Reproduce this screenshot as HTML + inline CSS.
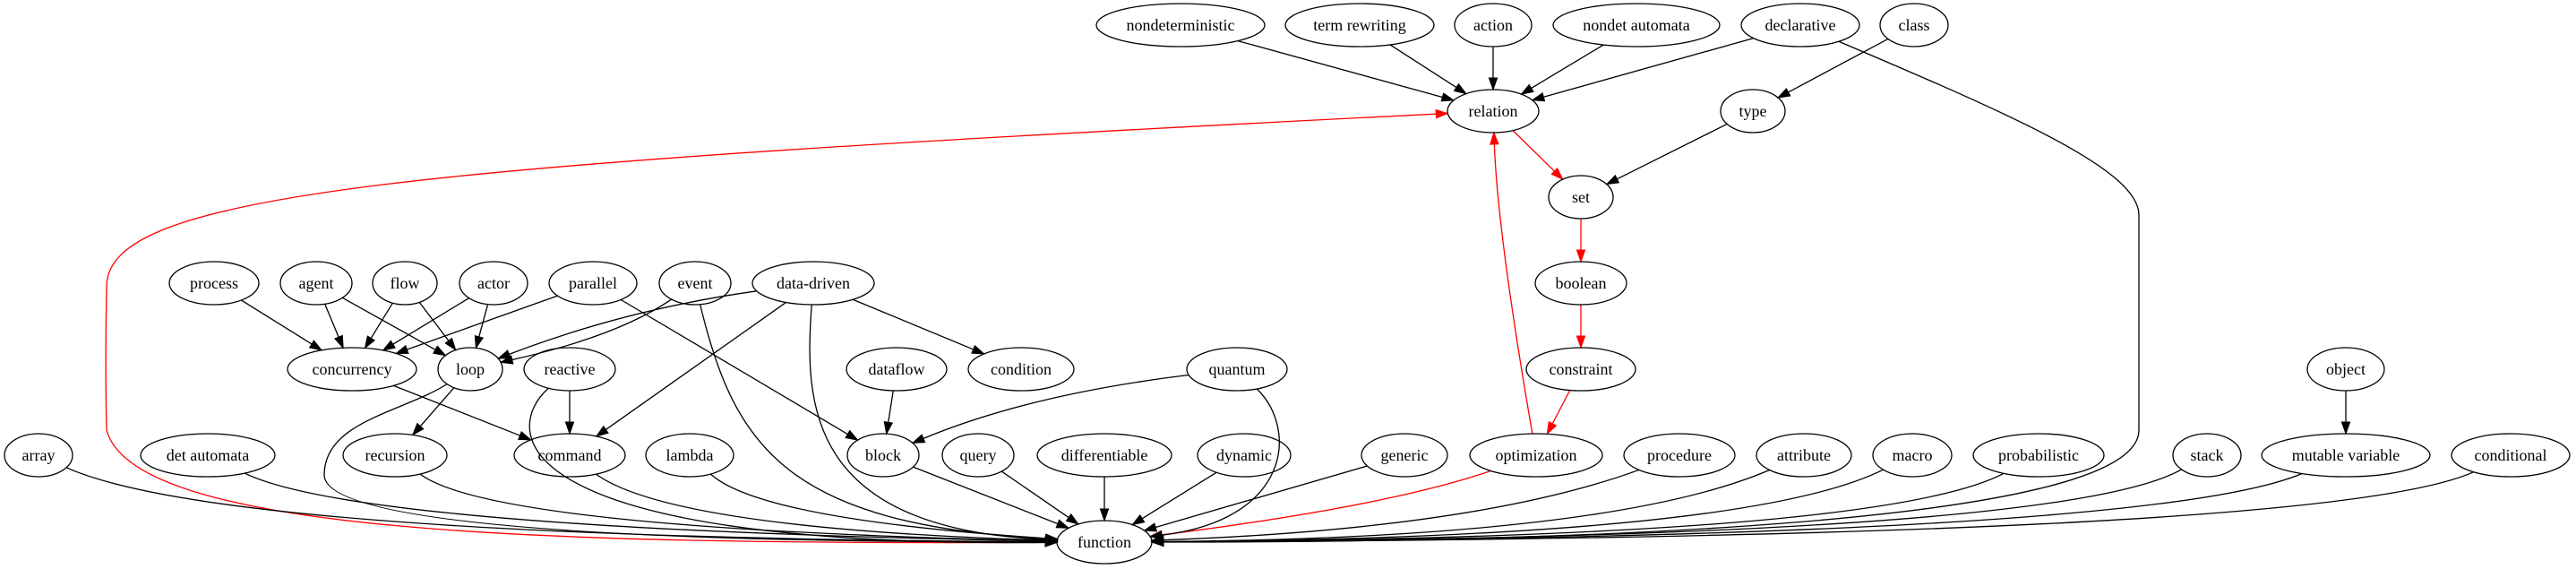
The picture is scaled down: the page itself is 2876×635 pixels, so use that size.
<!DOCTYPE html>
<html><head><meta charset="utf-8">
<style>
html,body{margin:0;padding:0;background:#fff;}
svg{display:block;}
text{font-family:"Liberation Serif",serif;font-size:18px;text-anchor:middle;dominant-baseline:central;fill:#000;}
ellipse{fill:none;stroke:#000;stroke-width:1.3;}
</style></head>
<body>
<svg id="g" width="2876" height="635" viewBox="0 0 2876 635" xmlns="http://www.w3.org/2000/svg">
<g id="edges"></g>
<g id="nodes">
<ellipse cx="1318" cy="28" rx="94" ry="24"/><text x="1318" y="28">nondeterministic</text>
<ellipse cx="1518" cy="28" rx="83" ry="24"/><text x="1518" y="28">term rewriting</text>
<ellipse cx="1667" cy="28" rx="43" ry="24"/><text x="1667" y="28">action</text>
<ellipse cx="1827" cy="28" rx="93" ry="24"/><text x="1827" y="28">nondet automata</text>
<ellipse cx="2010" cy="28" rx="66" ry="24"/><text x="2010" y="28">declarative</text>
<ellipse cx="2137" cy="28" rx="38" ry="24"/><text x="2137" y="28">class</text>
<ellipse cx="1667" cy="124" rx="51" ry="24"/><text x="1667" y="124">relation</text>
<ellipse cx="1957" cy="124" rx="36" ry="24"/><text x="1957" y="124">type</text>
<ellipse cx="1765" cy="220" rx="36" ry="24"/><text x="1765" y="220">set</text>
<ellipse cx="1765" cy="316" rx="51" ry="24"/><text x="1765" y="316">boolean</text>
<ellipse cx="239" cy="316" rx="50" ry="24"/><text x="239" y="316">process</text>
<ellipse cx="353" cy="316" rx="40" ry="24"/><text x="353" y="316">agent</text>
<ellipse cx="452" cy="316" rx="36" ry="24"/><text x="452" y="316">flow</text>
<ellipse cx="551" cy="316" rx="38" ry="24"/><text x="551" y="316">actor</text>
<ellipse cx="662" cy="316" rx="49" ry="24"/><text x="662" y="316">parallel</text>
<ellipse cx="776" cy="316" rx="40" ry="24"/><text x="776" y="316">event</text>
<ellipse cx="908" cy="316" rx="68" ry="24"/><text x="908" y="316">data-driven</text>
<ellipse cx="393" cy="412" rx="72" ry="24"/><text x="393" y="412">concurrency</text>
<ellipse cx="525" cy="412" rx="36" ry="24"/><text x="525" y="412">loop</text>
<ellipse cx="636" cy="412" rx="51" ry="24"/><text x="636" y="412">reactive</text>
<ellipse cx="1001" cy="412" rx="56" ry="24"/><text x="1001" y="412">dataflow</text>
<ellipse cx="1140" cy="412" rx="59" ry="24"/><text x="1140" y="412">condition</text>
<ellipse cx="1381" cy="412" rx="56" ry="24"/><text x="1381" y="412">quantum</text>
<ellipse cx="1765" cy="412" rx="61" ry="24"/><text x="1765" y="412">constraint</text>
<ellipse cx="2619" cy="412" rx="43" ry="24"/><text x="2619" y="412">object</text>
<ellipse cx="43" cy="508" rx="38" ry="24"/><text x="43" y="508">array</text>
<ellipse cx="232" cy="508" rx="75" ry="24"/><text x="232" y="508">det automata</text>
<ellipse cx="441" cy="508" rx="58" ry="24"/><text x="441" y="508">recursion</text>
<ellipse cx="636" cy="508" rx="62" ry="24"/><text x="636" y="508">command</text>
<ellipse cx="770" cy="508" rx="49" ry="24"/><text x="770" y="508">lambda</text>
<ellipse cx="986" cy="508" rx="40" ry="24"/><text x="986" y="508">block</text>
<ellipse cx="1092" cy="508" rx="40" ry="24"/><text x="1092" y="508">query</text>
<ellipse cx="1233" cy="508" rx="75" ry="24"/><text x="1233" y="508">differentiable</text>
<ellipse cx="1389" cy="508" rx="52" ry="24"/><text x="1389" y="508">dynamic</text>
<ellipse cx="1568" cy="508" rx="48" ry="24"/><text x="1568" y="508">generic</text>
<ellipse cx="1715" cy="508" rx="74" ry="24"/><text x="1715" y="508">optimization</text>
<ellipse cx="1875" cy="508" rx="62" ry="24"/><text x="1875" y="508">procedure</text>
<ellipse cx="2014" cy="508" rx="53" ry="24"/><text x="2014" y="508">attribute</text>
<ellipse cx="2135" cy="508" rx="44" ry="24"/><text x="2135" y="508">macro</text>
<ellipse cx="2276" cy="508" rx="73" ry="24"/><text x="2276" y="508">probabilistic</text>
<ellipse cx="2464" cy="508" rx="38" ry="24"/><text x="2464" y="508">stack</text>
<ellipse cx="2619" cy="508" rx="94" ry="24"/><text x="2619" y="508">mutable variable</text>
<ellipse cx="2803" cy="508" rx="66" ry="24"/><text x="2803" y="508">conditional</text>
<ellipse cx="1233" cy="605" rx="53" ry="24"/><text x="1233" y="605">function</text>
</g>
</svg>
<script>
var N={};
document.querySelectorAll('#nodes ellipse').forEach(function(e){
  var t=e.nextElementSibling.textContent;
  N[t]=[+e.getAttribute('cx'),+e.getAttribute('cy'),+e.getAttribute('rx'),+e.getAttribute('ry')];
});
function clip(n,p){var dx=p[0]-n[0],dy=p[1]-n[1];var t=1/Math.sqrt((dx/n[2])*(dx/n[2])+(dy/n[3])*(dy/n[3]));return [n[0]+dx*t,n[1]+dy*t];}
var G=document.getElementById('edges'),NS='http://www.w3.org/2000/svg';
function E(a,b,m,col){
  m=m||[];col=col||'#000';var A=N[a],B=N[b];
  var S=clip(A,m.length?m[0]:[B[0],B[1]]);
  var last=m.length?m[m.length-1]:S;
  var T=clip(B,m.length?m[m.length-1]:[A[0],A[1]]);
  var dx=T[0]-last[0],dy=T[1]-last[1],l=Math.sqrt(dx*dx+dy*dy);var ux=dx/l,uy=dy/l;
  var L=13,W=4.6;var Ep=[T[0]-ux*L,T[1]-uy*L];
  var d='M'+S[0]+','+S[1];
  if(m.length==0)d+=' L'+Ep;
  else if(m.length==1)d+=' Q'+m[0]+' '+Ep;
  else{for(var i=0;i+2<m.length;i+=3)d+=' C'+m[i]+' '+m[i+1]+' '+m[i+2];d+=' C'+m[m.length-2]+' '+m[m.length-1]+' '+Ep;}
  var p=document.createElementNS(NS,'path');p.setAttribute('d',d);p.setAttribute('fill','none');p.setAttribute('stroke',col);p.setAttribute('stroke-width','1.3');G.appendChild(p);
  var q=document.createElementNS(NS,'polygon');
  q.setAttribute('points',T[0]+','+T[1]+' '+(Ep[0]-uy*W)+','+(Ep[1]+ux*W)+' '+(Ep[0]+uy*W)+','+(Ep[1]-ux*W));
  q.setAttribute('fill',col);q.setAttribute('stroke',col);G.appendChild(q);
}
var R='#f00',F='function';
['nondeterministic','term rewriting','action','nondet automata','declarative'].forEach(function(n){E(n,'relation');});
E('class','type');E('type','set');
E('relation','set',[],R);E('set','boolean',[],R);E('boolean','constraint',[],R);E('constraint','optimization',[],R);
E('optimization','relation',[[1672,260]],R);
E('optimization',F,[[1550,565]],R);
E(F,'relation',[[600,608],[150,595],[119,480],[117,400],[119,330],[119,320],[119,215],[450,185]],R);
E('declarative',F,[[2250,130],[2388,190],[2388,240],[2388,350],[2388,400],[2388,480],[2388,590],[1700,605]]);
['process','agent','flow','actor','parallel'].forEach(function(n){E(n,'concurrency');});
['agent','flow','actor'].forEach(function(n){E(n,'loop');});
E('parallel','block');
E('event','loop',[[690,375]]);
E('data-driven','loop',[[700,345]]);
E('data-driven','command');E('data-driven','condition');
E('data-driven',F,[[898,450],[900,590]]);
E('event',F,[[820,500],[880,585]]);
E('concurrency','command');E('loop','recursion');
E('loop',F,[[450,460],[362,470],[362,530],[362,600],[900,605]]);
E('reactive','command');
E('reactive',F,[[560,480],[560,610]]);
E('dataflow','block');E('quantum','block',[[1150,440]]);
E('quantum',F,[[1450,480],[1440,580]]);
E('object','mutable variable');
var lc={'array':[250,600],'det automata':[400,590],'recursion':[550,590],'command':[750,590],'lambda':[850,580],
'procedure':[1650,590],'attribute':[1800,600],'macro':[1950,600],'probabilistic':[2100,600],'stack':[2300,600],'mutable variable':[2400,600],'conditional':[2600,600]};
['array','det automata','recursion','command','lambda','block','query','differentiable','dynamic','generic','procedure','attribute','macro','probabilistic','stack','mutable variable','conditional'].forEach(function(n){E(n,F,lc[n]?[lc[n]]:[]);});
</script>
</body></html>
